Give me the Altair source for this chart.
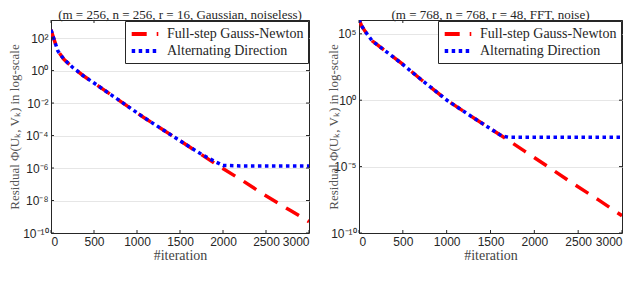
import altair as alt
import pandas as pd

GN = "Full-step Gauss-Newton"
AD = "Alternating Direction"

# Left panel (m = 256, Gaussian, noiseless)
iters_L_gn = [0, 30, 80, 150, 250, 372, 700, 1070, 1465, 1700, 1945, 2233, 2465, 2780, 3000]
vals_L_gn = [3.2e2, 1e2, 1.6e1, 5e0, 1.6e0, 5e-1, 3.2e-2, 1.4e-3, 6.3e-5, 1e-5, 1.4e-6, 1.6e-7, 2.5e-8, 2.5e-9, 5e-10]
iters_L_ad = [0, 30, 80, 150, 250, 372, 700, 1070, 1465, 1600, 1750, 1900, 2000, 2200, 2500, 3000]
vals_L_ad = [3.2e2, 1e2, 1.6e1, 5e0, 1.6e0, 5e-1, 3.2e-2, 1.4e-3, 6.3e-5, 2.2e-5, 7e-6, 2.6e-6, 1.45e-6, 1.35e-6, 1.35e-6, 1.35e-6]

# Right panel (m = 768, FFT, noise)
iters_R_gn = [0, 30, 68, 150, 262, 490, 718, 1003, 1323, 1630, 1893, 2166, 2428, 2736, 3000]
vals_R_gn = [1.2e6, 4e5, 1.6e5, 3e4, 8e3, 5.6e2, 3.2e1, 1e0, 4e-2, 2e-3, 1.4e-4, 9e-6, 6e-7, 3e-8, 2e-9]
iters_R_ad = [0, 30, 68, 150, 262, 490, 718, 1003, 1323, 1630, 1700, 2000, 2500, 3000]
vals_R_ad = [1.2e6, 4e5, 1.6e5, 3e4, 8e3, 5.6e2, 3.2e1, 1e0, 4e-2, 2e-3, 1.66e-3, 1.66e-3, 1.66e-3, 1.66e-3]

x_ticks = [0, 500, 1000, 1500, 2000, 2500, 3000]
y_exps_L = [2, 0, -2, -4, -6, -8, -10]
y_exps_R = [5, 0, -5, -10]

title_L = "(m = 256, n = 256, r = 16, Gaussian, noiseless)"
title_R = "(m = 768, n = 768, r = 48, FFT, noise)"
y_title = "Residual Φ(Uₖ, Vₖ) in log-scale"
x_title = "#iteration"

SUP = {"0": "⁰", "1": "¹", "2": "²", "3": "³", "4": "⁴", "5": "⁵",
       "6": "⁶", "7": "⁷", "8": "⁸", "9": "⁹", "-": "⁻"}

SERIF = "Liberation Serif"
SANS = "Liberation Sans"
H = 213


def label_expr(exps):
    expr = "''"
    for e in reversed(exps):
        s = "10" + "".join(SUP[c] for c in str(e))
        expr = f"(round(log(datum.value)/LN10)=={e} ? '{s}' : {expr})"
    return expr


def panel(it_gn, v_gn, it_ad, v_ad, exps, domain, title, W, tpad):
    df = pd.DataFrame({
        "iter": it_gn + it_ad,
        "val": v_gn + v_ad,
        "method": [GN] * len(it_gn) + [AD] * len(it_ad),
    })
    yticks = [10.0 ** e for e in exps]
    xs = alt.Scale(domain=[0, 3000], nice=False)
    ys = alt.Scale(type="log", domain=domain, nice=False)
    xax = alt.Axis(
        values=x_ticks, format="d", labelOverlap=False, title=x_title, grid=False,
        tickSize=0, labelPadding=3,
        labelFont=SANS, labelFontSize=12, labelColor="#262626",
        titleFont=SERIF, titleFontSize=14, titleFontWeight="normal",
        titleColor="#444", titlePadding=1, domainColor="#262626")
    yax = alt.Axis(
        values=yticks, labelExpr=label_expr(exps), title=y_title,
        grid=True, gridColor="#e6e6e6", tickSize=0, labelPadding=3,
        labelFont=SANS, labelFontSize=12, labelColor="#262626",
        titleFont=SERIF, titleFontSize=13, titleFontWeight="normal",
        titleColor="#555", titlePadding=tpad, domainColor="#262626")
    leg = alt.Legend(
        title=None, orient="top-right", offset=1, fillColor="white", strokeColor="#262626",
        padding=4, labelFont=SERIF, labelFontSize=14, labelColor="#262626",
        symbolType="M-1.9,0H1.9", symbolStrokeWidth=4, symbolSize=196, rowPadding=0,
        labelOffset=13, symbolOffset=7)
    lines = alt.Chart(df).mark_line(strokeWidth=3.5, clip=True).encode(
        x=alt.X("iter:Q", scale=xs, axis=xax),
        y=alt.Y("val:Q", scale=ys, axis=yax),
        color=alt.Color("method:N", scale=alt.Scale(domain=[GN, AD], range=["#ff0000", "#0000ff"]),
                        legend=leg),
        strokeDash=alt.StrokeDash("method:N", scale=alt.Scale(domain=[GN, AD], range=[[15, 10], [3.5, 3.5]]),
                                  legend=leg),
    )
    xt = pd.DataFrame({"t": x_ticks})
    yt = pd.DataFrame({"t": yticks})
    xb = alt.Chart(xt).mark_rule(color="#262626").encode(
        x=alt.X("t:Q", scale=xs, axis=xax), y=alt.value(H), y2=alt.value(H - 3))
    xtop = alt.Chart(xt).mark_rule(color="#262626").encode(
        x=alt.X("t:Q", scale=xs, axis=xax), y=alt.value(0), y2=alt.value(3))
    yl = alt.Chart(yt).mark_rule(color="#262626").encode(
        y=alt.Y("t:Q", scale=ys, axis=yax), x=alt.value(0), x2=alt.value(3))
    yr = alt.Chart(yt).mark_rule(color="#262626").encode(
        y=alt.Y("t:Q", scale=ys, axis=yax), x=alt.value(W), x2=alt.value(W - 3))
    return alt.layer(lines, xb, xtop, yl, yr).properties(
        width=W, height=H,
        title=alt.TitleParams(title, font=SERIF, fontSize=13, fontWeight="normal",
                              color="#262626", offset=-2),
    )


left = panel(iters_L_gn, vals_L_gn, iters_L_ad, vals_L_ad, y_exps_L, [1e-10, 1.3e3], title_L, 258, 1)
right = panel(iters_R_gn, vals_R_gn, iters_R_ad, vals_R_ad, y_exps_R, [1e-10, 1.1e6], title_R, 263, -10)

chart = alt.hconcat(left, right, spacing=17).resolve_scale(
    x="independent", y="independent", color="independent", strokeDash="independent"
).resolve_legend(color="independent", strokeDash="independent").configure(
    font=SERIF
).configure_view(
    stroke="#262626", strokeWidth=1
).configure_legend(
    labelFont=SERIF, labelFontSize=14
).properties(padding={"left": 0, "top": 0, "right": 0, "bottom": 0})

chart.save("out.html", embed_options={"renderer": "svg", "actions": False})
